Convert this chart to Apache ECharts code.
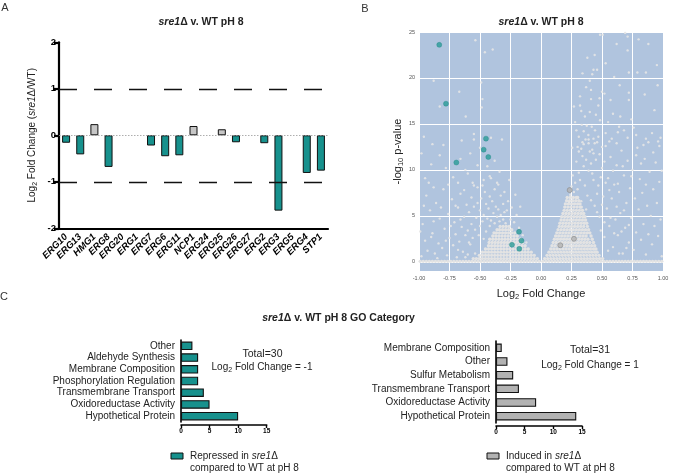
<!DOCTYPE html>
<html><head><meta charset="utf-8">
<script src="https://cdn.jsdelivr.net/npm/echarts@6.0.0/dist/echarts.min.js"></script>
<style>html,body{margin:0;padding:0;background:#fff}#c{width:696px;height:475px}</style>
</head><body><div id="c"></div>
<script>
// ---------- Panel A data ----------
const genes = ['ERG10','ERG13','HMG1','ERG8','ERG20','ERG1','ERG7','ERG6','ERG11','NCP1','ERG24','ERG25','ERG26','ERG27','ERG2','ERG3','ERG5','ERG4','STP1'];
const geneLog2FC = [-0.16,-0.41,0.24,-0.68,0,0,-0.22,-0.45,-0.43,0.20,0,0.13,-0.15,0,-0.17,-1.62,0,-0.81,-0.76];
const cutoffs = [1,-1];

// ---------- Panel B data ----------
const repressedPts = [[-0.834,23.6],[-0.779,17.2],[-0.451,13.4],[-0.47,12.2],[-0.432,11.4],[-0.694,10.8],[-0.18,3.26],[-0.16,2.3],[-0.238,1.85],[-0.178,1.41]];
const inducedPts = [[0.235,7.8],[0.27,2.5],[0.158,1.8]];
const baselineX = [-0.99,-0.965,-0.94,-0.915,-0.89,-0.865,-0.84,-0.815,-0.79,-0.765,-0.74,-0.715,-0.69,-0.665,-0.64,-0.615,-0.59,-0.565,-0.54,-0.515,-0.49,-0.465,-0.44,-0.415,-0.39,-0.365,-0.34,-0.315,-0.29,-0.265,-0.24,-0.215,-0.19,-0.165,-0.14,-0.115,-0.09,-0.065,-0.04,-0.015,
 0.015,0.04,0.065,0.09,0.115,0.14,0.165,0.19,0.215,0.24,0.265,0.29,0.315,0.34,0.365,0.39,0.415,0.44,0.465,0.49,0.515,0.54,0.565,0.59,0.615,0.64,0.665,0.69,0.715,0.74,0.765,0.79,0.815,0.84,0.865,0.89,0.915,0.94,0.965,0.99];
// dense V-shaped core of the cloud: [y, x values]
const coreRows = [
 [0.35,[-0.03,-0.055,-0.08,-0.105,-0.13,-0.155,-0.18,-0.205,-0.23,-0.255,-0.28,-0.305,-0.33,-0.355,-0.38,-0.405,-0.43,-0.455,-0.48,-0.505,-0.53,-0.555]],
 [0.7,[-0.055,-0.08,-0.105,-0.13,-0.155,-0.18,-0.205,-0.23,-0.255,-0.28,-0.305,-0.33,-0.355,-0.38,-0.405,-0.43,-0.455,-0.48,-0.505]],
 [1.05,[-0.08,-0.105,-0.13,-0.155,-0.18,-0.205,-0.23,-0.255,-0.28,-0.305,-0.33,-0.355,-0.38,-0.405,-0.43,-0.455,-0.48]],
 [1.4,[-0.105,-0.13,-0.155,-0.18,-0.205,-0.23,-0.255,-0.28,-0.305,-0.33,-0.355,-0.38,-0.405,-0.43,-0.455]],
 [1.75,[-0.13,-0.155,-0.18,-0.205,-0.23,-0.255,-0.28,-0.305,-0.33,-0.355,-0.38,-0.405,-0.43]],
 [2.1,[-0.15,-0.175,-0.2,-0.225,-0.25,-0.275,-0.3,-0.325,-0.35,-0.375,-0.4,-0.425]],
 [2.45,[-0.17,-0.195,-0.22,-0.245,-0.27,-0.295,-0.32,-0.345,-0.37,-0.395,-0.42]],
 [2.8,[-0.195,-0.22,-0.245,-0.27,-0.295,-0.32,-0.345,-0.37,-0.395]],
 [3.15,[-0.215,-0.24,-0.265,-0.29,-0.315,-0.34,-0.365,-0.385]],
 [3.5,[-0.24,-0.265,-0.29,-0.315,-0.34,-0.36]],
 [3.85,[-0.26,-0.285,-0.31,-0.335]],
 [0.35,[0.03,0.055,0.08,0.105,0.13,0.155,0.18,0.205,0.23,0.255,0.28,0.305,0.33,0.355,0.38,0.405,0.43,0.455,0.48,0.505]],
 [0.7,[0.05,0.075,0.1,0.125,0.15,0.175,0.2,0.225,0.25,0.275,0.3,0.325,0.35,0.375,0.4,0.425,0.45,0.475]],
 [1.05,[0.065,0.09,0.115,0.14,0.165,0.19,0.215,0.24,0.265,0.29,0.315,0.34,0.365,0.39,0.415,0.44,0.46]],
 [1.4,[0.08,0.105,0.13,0.155,0.18,0.205,0.23,0.255,0.28,0.305,0.33,0.355,0.38,0.405,0.43,0.45]],
 [1.75,[0.09,0.115,0.14,0.165,0.19,0.215,0.24,0.265,0.29,0.315,0.34,0.365,0.39,0.415,0.44]],
 [2.1,[0.1,0.125,0.15,0.175,0.2,0.225,0.25,0.275,0.3,0.325,0.35,0.375,0.4,0.43]],
 [2.45,[0.11,0.135,0.16,0.185,0.21,0.235,0.26,0.285,0.31,0.335,0.36,0.385,0.42]],
 [2.8,[0.12,0.145,0.17,0.195,0.22,0.245,0.27,0.295,0.32,0.345,0.37,0.41]],
 [3.15,[0.13,0.155,0.18,0.205,0.23,0.255,0.28,0.305,0.33,0.355,0.38,0.4]],
 [3.5,[0.14,0.165,0.19,0.215,0.24,0.265,0.29,0.315,0.34,0.365,0.39]],
 [3.85,[0.15,0.175,0.2,0.225,0.25,0.275,0.3,0.325,0.35,0.38]],
 [4.2,[0.155,0.18,0.205,0.23,0.255,0.28,0.305,0.33,0.355,0.375]],
 [4.55,[0.165,0.19,0.215,0.24,0.265,0.29,0.315,0.34,0.365]],
 [4.9,[0.17,0.195,0.22,0.245,0.27,0.295,0.32,0.345,0.36]],
 [5.25,[0.18,0.205,0.23,0.255,0.28,0.305,0.33,0.35]],
 [5.6,[0.19,0.215,0.24,0.265,0.29,0.315,0.34]],
 [5.95,[0.195,0.22,0.245,0.27,0.295,0.32,0.33]],
 [6.3,[0.2,0.225,0.25,0.275,0.3,0.32]],
 [6.65,[0.21,0.235,0.26,0.285,0.31]],
 [7.0,[0.215,0.24,0.265,0.29,0.3]]
];
// scattered genes around the core
const scatterPts = [
 [-0.98,0.6],[-0.95,2.3],[-0.97,4.1],[-0.93,1.2],[-0.91,5.6],[-0.94,7.2],[-0.89,3.1],[-0.87,0.9],[-0.86,6.4],[-0.84,2.0],[-0.83,4.7],[-0.81,1.5],[-0.8,7.9],[-0.79,3.6],[-0.77,0.7],[-0.76,5.2],[-0.75,2.6],[-0.73,6.8],[-0.72,1.8],[-0.71,4.3],[-0.7,3.0],[-0.69,0.5],[-0.68,5.9],[-0.67,2.2],[-0.66,7.4],[-0.65,3.8],[-0.64,1.1],[-0.63,4.9],[-0.62,2.9],[-0.61,6.2],[-0.6,0.8],[-0.6,3.4],[-0.59,5.4],[-0.58,1.9],[-0.57,7.0],[-0.57,4.1],[-0.56,2.6],[-0.55,6.0],[-0.54,3.5],[-0.53,4.8],[-0.52,8.1],[-0.51,2.9],[-0.5,5.6],[-0.5,3.9],[-0.49,6.9],[-0.48,4.4],[-0.47,2.5],[-0.47,5.1],[-0.46,7.6],[-0.45,3.3],[-0.45,6.3],[-0.44,4.7],[-0.43,5.8],[-0.42,3.9],[-0.42,7.1],[-0.41,4.5],[-0.4,6.6],[-0.39,5.3],[-0.38,4.2],[-0.37,6.0],[-0.36,4.9],[-0.35,5.7],[-0.34,4.4],[-0.33,5.1],[-0.31,4.6],[-0.3,5.4],[-0.29,4.2],
 [-0.99,3.3],[-0.96,6.1],[-0.92,8.6],[-0.9,2.7],[-0.88,4.4],[-0.85,0.4],[-0.82,5.9],[-0.78,2.3],[-0.74,3.9],[-0.7,6.1],[-0.68,1.3],[-0.66,4.6],[-0.63,7.8],[-0.62,0.5],[-0.59,2.1],[-0.56,8.6],[-0.54,0.9],[-0.52,6.4],[-0.48,8.3],[-0.41,9.1],[-0.38,7.9],[-0.35,8.4],[-0.33,7.2],[-0.31,6.3],[-0.28,5.6],[-0.27,6.6],[-0.25,4.6],[-0.24,5.9],[-0.22,4.3],[-0.2,5.1],[-0.18,3.7],[-0.15,2.9],[-0.12,2.1],[-0.3,7.6],[-0.26,8.9],[-0.21,7.3],[-0.17,6.0],
 [-0.55,8.3],[-0.47,8.9],[-0.68,8.6],[-0.88,8.1],[-0.6,9.6],[-0.42,9.3],[-0.78,10.2],[-0.52,10.5],[-0.95,9.1],[-0.58,11.8],[-0.38,11.0],[-0.83,11.6],[-0.66,11.2],[-0.72,9.2],[-0.36,8.6],[-0.9,10.6],[-0.5,12.4],[-0.62,10.0],[-0.44,10.4],[-0.34,9.8],[-0.76,8.4],[-0.98,11.8],
 [-0.96,13.6],[-0.89,12.8],[-0.8,12.7],[-0.65,13.2],[-0.55,13.9],[-0.55,13.3],[-0.41,13.5],[-0.32,13.3],[-0.88,19.7],[-0.67,18.5],[-0.49,19.5],[-0.48,17.7],[-0.486,16.8],[-0.83,16.9],[-0.617,15.8],[-0.538,24.1],[-0.46,22.8],[-0.396,23.1],
 [0.32,8.9],[0.35,10.4],[0.38,7.2],[0.4,12.0],[0.42,9.6],[0.44,6.1],[0.45,11.1],[0.47,8.3],[0.48,4.9],[0.5,10.2],[0.51,7.1],[0.52,2.7],[0.53,12.6],[0.54,5.8],[0.55,9.1],[0.56,3.9],[0.57,11.4],[0.58,6.9],[0.59,1.6],[0.6,8.4],[0.61,4.6],[0.62,10.5],[0.63,2.9],[0.64,7.6],[0.65,5.3],[0.66,12.1],[0.67,0.9],[0.68,9.4],[0.69,3.7],[0.7,6.4],[0.71,11.0],[0.72,2.1],[0.73,8.0],[0.74,4.8],[0.75,10.0],[0.76,1.3],[0.77,6.9],[0.78,3.2],[0.79,12.4],[0.8,5.7],[0.81,9.0],[0.82,2.4],[0.83,7.5],[0.84,4.1],[0.85,11.2],[0.86,0.8],[0.87,6.1],[0.88,3.0],[0.89,9.8],[0.9,5.0],[0.91,1.9],[0.92,7.9],[0.93,3.9],[0.94,10.8],[0.95,6.4],[0.96,2.8],[0.97,8.7],[0.98,4.6],[0.99,0.6],
 [0.3,7.9],[0.31,9.7],[0.33,6.6],[0.34,11.5],[0.36,8.3],[0.37,5.7],[0.39,9.9],[0.41,6.7],[0.43,8.9],[0.46,5.4],[0.49,9.2],[0.52,4.3],[0.28,8.6],[0.29,10.9],[0.27,7.6],[0.33,12.3],[0.37,11.1],[0.41,10.7],[0.44,12.9],[0.46,7.4],[0.49,3.4],[0.5,6.2],[0.53,8.6],[0.55,1.2],[0.57,4.8],[0.6,3.1],[0.62,6.0],[0.64,0.9],[0.66,3.3],[0.68,5.6],[0.7,1.5],[0.72,4.0],[0.26,9.4],[0.25,8.2],[0.24,7.3],[0.23,6.5],[0.31,12.0],[0.35,12.8],[0.39,13.3],[0.43,11.8],[0.48,11.7],[0.52,10.9],[0.56,7.8],[0.59,9.9],[0.63,8.5],[0.67,10.4],[0.74,9.3],[0.78,11.6],[0.82,10.7],[0.86,8.4],[0.92,11.9],[0.96,13.1],[0.88,13.0],[0.71,13.5],[0.58,13.4],[0.63,14.1],[0.76,14.6],[0.99,9.9],[0.98,13.5],
 [0.484,24.7],[0.506,24.7],[0.69,24.9],[0.71,24.5],[0.71,23.0],[0.88,23.7],[0.38,22.2],[0.43,20.9],[0.46,20.9],[0.42,20.4],[0.40,19.7],[0.72,20.6],[0.79,20.6],[0.86,20.6],[0.6,20.1],[0.645,19.2],[0.41,18.7],[0.5,18.5],[0.52,18.3],[0.32,18.0],[0.41,17.7],[0.48,17.8],[0.72,18.4],[0.72,17.6],[0.85,18.2],[0.956,19.2],[0.32,17.0],[0.47,17.0],[0.59,16.1],[0.65,15.8],[0.93,16.5],[0.4,16.3],
 [0.334,14.9],[0.375,14.8],[0.416,14.7],[0.35,14.2],[0.388,13.8],[0.443,14.3],[0.484,15.4],[0.365,13.3],[0.43,13.4],[0.46,13.0],[0.31,13.6],[0.256,12.4],[0.3,12.5],[0.5,12.5],[0.64,14.7],[0.68,14.3],[0.86,13.4],[0.84,12.7],[0.91,14.0],
 [0.28,15.2],[0.36,15.8],[0.45,16.0],[0.39,12.9],[0.34,13.0],[0.42,12.2],[0.47,13.6],[0.53,14.0],[0.56,13.1],[0.29,14.3],[0.33,16.4],[0.55,15.2],[0.74,15.5],[0.78,13.8],[0.62,12.9],[0.97,12.6],[0.37,19.0],[0.44,22.5],[0.53,21.6],[0.34,20.5],[0.62,23.7],[0.8,24.2],[0.57,17.6],[0.95,21.4],[0.27,16.9]
];
const bTicksY = [0,5,10,15,20,25];

// ---------- Panel C data ----------
const repCats = ['Other','Aldehyde Synthesis','Membrane Composition','Phosphorylation Regulation','Transmembrane Transport','Oxidoreductase Activity','Hypothetical Protein'];
const repCounts = [2,3,3,3,4,5,10];
const indCats = ['Membrane Composition','Other','Sulfur Metabolism','Transmembrane Transport','Oxidoreductase Activity','Hypothetical Protein'];
const indCounts = [1,2,3,4,7,14];

// ---------- build ----------
const FONT = '"Liberation Sans", Arial, Helvetica, sans-serif';
const TEAL = '#17918d';
const GRAYBAR = '#c6c6c6';
const core = [];
baselineX.forEach(x => core.push([x, 0.05]));
coreRows.forEach(([y, xs]) => xs.forEach(x => core.push([x, y])));

const rich = {
  n: {fontSize: 10, lineHeight: 14, fontFamily: FONT, color: '#222'},
  i: {fontSize: 10, lineHeight: 14, fontStyle: 'italic', fontFamily: FONT, color: '#222'},
  s: {fontSize: 7, lineHeight: 7, verticalAlign: 'bottom', fontFamily: FONT, color: '#222'}
};
const rich11 = {
  n: {fontSize: 11, lineHeight: 15, fontFamily: FONT, color: '#222'},
  s: {fontSize: 7.5, lineHeight: 7, verticalAlign: 'bottom', fontFamily: FONT, color: '#222'}
};
const titleRich = {
  bi: {fontSize: 10.5, fontWeight: 'bold', fontStyle: 'italic', fontFamily: FONT, color: '#111'},
  b: {fontSize: 10.5, fontWeight: 'bold', fontFamily: FONT, color: '#111'}
};

const barAData = geneLog2FC.map(v => ({
  value: v,
  itemStyle: {color: v > 0 ? GRAYBAR : TEAL, borderColor: '#111', borderWidth: v === 0 ? 0 : 1}
}));

const sum = a => a.reduce((s, v) => s + v, 0);

function txt(x, y, text, extra) {
  return {type: 'text', x, y, style: Object.assign({text, fontFamily: FONT, fontSize: 10, fill: '#222', align: 'center', verticalAlign: 'middle'}, extra || {})};
}
function catY(idx, data) {
  return {gridIndex: idx, type: 'category', data, inverse: true,
    axisLine: {lineStyle: {color: '#000', width: 1.6}},
    axisTick: {alignWithLabel: true, length: 3, lineStyle: {color: '#000', width: 1.4}},
    axisLabel: {interval: 0, fontSize: 10, color: '#222', margin: 6}};
}
function countX(idx) {
  return {gridIndex: idx, type: 'value', min: 0, max: 15, interval: 5, offset: 3,
    axisLine: {show: true, lineStyle: {color: '#000', width: 1.6}},
    axisTick: {show: true, length: 3, lineStyle: {color: '#000', width: 1.4}},
    splitLine: {show: false},
    axisLabel: {fontSize: 6.5, fontWeight: 'bold', color: '#000', margin: 3}};
}

const option = {
  animation: false,
  textStyle: {fontFamily: FONT},
  grid: [
    {left: 59, top: 42.3, width: 269, height: 186},
    {left: 419, top: 32, width: 244, height: 239, show: true, backgroundColor: '#b0c4de', borderWidth: 0},
    {left: 181, top: 340, width: 85.7, height: 82},
    {left: 496, top: 341, width: 86, height: 82}
  ],
  xAxis: [
    {gridIndex: 0, type: 'category', data: genes,
     axisLine: {onZero: false, lineStyle: {color: '#000', width: 2.2}},
     axisTick: {alignWithLabel: true, length: 6, lineStyle: {color: '#000', width: 2.2}},
     axisLabel: {rotate: 45, interval: 0, fontSize: 9.5, fontWeight: 'bold', fontStyle: 'italic', color: '#000', margin: 7}},
    {gridIndex: 1, type: 'value', min: -1, max: 1, interval: 0.25,
     axisLine: {show: false}, axisTick: {show: false},
     splitLine: {show: true, lineStyle: {color: '#ffffff', width: 1}},
     axisLabel: {fontSize: 5.5, color: '#555', margin: 4, formatter: v => v.toFixed(2)},
     name: 'Log{s|2} Fold Change', nameLocation: 'middle', nameGap: 15,
     nameTextStyle: {fontSize: 11, color: '#222', lineHeight: 15, rich: rich11}},
    countX(2), countX(3)
  ],
  yAxis: [
    {gridIndex: 0, type: 'value', min: -2, max: 2, interval: 1,
     axisLine: {show: true, lineStyle: {color: '#000', width: 2.2}},
     axisTick: {show: true, length: 5, lineStyle: {color: '#000', width: 2.2}},
     splitLine: {show: false},
     axisLabel: {fontSize: 9.5, fontWeight: 'bold', color: '#000', margin: 3},
     name: 'Log{s|2} Fold Change ({i|sre1}Δ/WT)', nameLocation: 'middle', nameGap: 20, nameRotate: 90,
     nameTextStyle: {fontSize: 10, color: '#222', lineHeight: 14, rich: rich}},
    {gridIndex: 1, type: 'value', min: -1, max: 25,
     axisLine: {show: false},
     axisTick: {show: false, customValues: bTicksY},
     splitLine: {show: true, lineStyle: {color: '#ffffff', width: 1}},
     axisLabel: {fontSize: 5.5, color: '#555', margin: 4, customValues: bTicksY},
     name: '-log{s|10} p-value', nameLocation: 'middle', nameGap: 14, nameRotate: 90,
     nameTextStyle: {fontSize: 11, color: '#222', lineHeight: 15, rich: rich11}},
    catY(2, repCats), catY(3, indCats)
  ],
  series: [
    {type: 'bar', xAxisIndex: 0, yAxisIndex: 0, data: barAData, barWidth: 8,
     markLine: {silent: true, symbol: 'none', label: {show: false},
       data: [
         {yAxis: 0, lineStyle: {color: '#999', width: 0.8, type: [1.5, 1.5]}},
         ...cutoffs.map(c => ({yAxis: c, lineStyle: {color: '#111', width: 1.3, type: [18, 17]}}))
       ]}},
    {type: 'scatter', xAxisIndex: 1, yAxisIndex: 1, data: core, symbolSize: 3.4, z: 2, silent: true,
     itemStyle: {color: '#e3e3e3', opacity: 1}},
    {type: 'scatter', xAxisIndex: 1, yAxisIndex: 1, data: scatterPts, symbolSize: 2.4, z: 2, silent: true,
     itemStyle: {color: '#e6e6e6', opacity: 0.9}},
    {type: 'scatter', xAxisIndex: 1, yAxisIndex: 1, data: repressedPts, symbolSize: 5, z: 3,
     itemStyle: {color: '#2a9c97', borderColor: '#238a86', borderWidth: 0.5}},
    {type: 'scatter', xAxisIndex: 1, yAxisIndex: 1, data: inducedPts, symbolSize: 5, z: 3,
     itemStyle: {color: '#b3b3b3', borderColor: '#8a8a8a', borderWidth: 0.8}},
    {type: 'bar', xAxisIndex: 2, yAxisIndex: 2, data: repCounts, barWidth: 8.5,
     itemStyle: {color: TEAL, borderColor: '#111', borderWidth: 1.1}},
    {type: 'bar', xAxisIndex: 3, yAxisIndex: 3, data: indCounts, barWidth: 8.5,
     itemStyle: {color: '#b2b2b2', borderColor: '#111', borderWidth: 1.1}}
  ],
  graphic: [
    txt(5, 8, 'A', {fontSize: 11, fill: '#333'}),
    txt(365, 9, 'B', {fontSize: 11, fill: '#333'}),
    txt(4, 297, 'C', {fontSize: 11, fill: '#333'}),
    txt(201, 22, '{bi|sre1}{b|Δ v. WT pH 8}', {rich: titleRich}),
    txt(541, 22, '{bi|sre1}{b|Δ v. WT pH 8}', {rich: titleRich}),
    txt(338.5, 318, '{bi|sre1}{b|Δ v. WT pH 8 GO Category}', {rich: titleRich}),
    txt(262.5, 354, 'Total=' + sum(repCounts), {fontSize: 10.5}),
    txt(262, 367, '{n|Log}{s|2}{n| Fold Change = -1}', {rich: rich}),
    txt(590, 350.5, 'Total=' + sum(indCounts), {fontSize: 10.5}),
    txt(590, 365, '{n|Log}{s|2}{n| Fold Change = 1}', {rich: rich}),
    {type: 'rect', shape: {x: 171, y: 453, width: 12, height: 6}, style: {fill: TEAL, stroke: '#111', lineWidth: 1}},
    txt(190, 456, '{n|Repressed in }{i|sre1}{n|Δ}', {align: 'left', rich: rich}),
    txt(190, 468.5, 'compared to WT at pH 8', {align: 'left'}),
    {type: 'rect', shape: {x: 487, y: 453, width: 12, height: 6}, style: {fill: '#b2b2b2', stroke: '#111', lineWidth: 1}},
    txt(506, 456, '{n|Induced in }{i|sre1}{n|Δ}', {align: 'left', rich: rich}),
    txt(506, 468.5, 'compared to WT at pH 8', {align: 'left'})
  ]
};
const chart = echarts.init(document.getElementById('c'));
chart.setOption(option);
</script></body></html>
